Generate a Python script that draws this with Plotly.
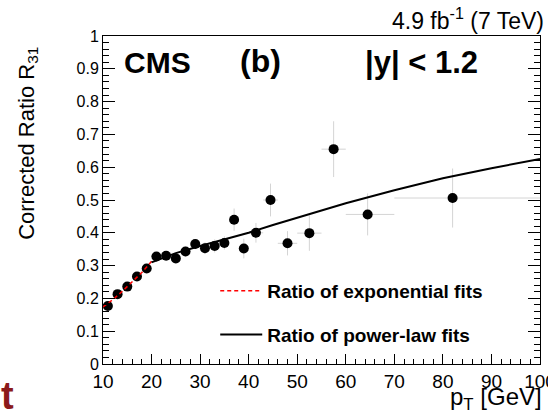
import plotly.graph_objects as go

# --- data ---
pt = [11, 13, 15, 17, 19, 21, 23, 25, 27, 29, 31, 33, 35, 37, 39, 41.5, 44.5, 48, 52.5, 57.5, 64.5, 82]
r31 = [0.177, 0.213, 0.236, 0.267, 0.291, 0.328, 0.330, 0.322, 0.343, 0.366, 0.353, 0.360, 0.369,
       0.440, 0.352, 0.400, 0.500, 0.368, 0.399, 0.655, 0.456, 0.506]
r31_err = [0.01, 0.01, 0.01, 0.01, 0.012, 0.012, 0.012, 0.012, 0.015, 0.015, 0.018, 0.02, 0.02,
           0.034, 0.03, 0.03, 0.05, 0.037, 0.054, 0.085, 0.064, 0.09]
bin_lo = [10, 12, 14, 16, 18, 20, 22, 24, 26, 28, 30, 32, 34, 36, 38, 40, 43, 46, 50, 55, 60, 70]
bin_hi = [12, 14, 16, 18, 20, 22, 24, 26, 28, 30, 32, 34, 36, 38, 40, 43, 46, 50, 55, 60, 70, 100]

exp_x = [10, 12, 14, 16, 18, 20]
exp_y = [0.174, 0.196, 0.222, 0.250, 0.279, 0.313]

pow_x = [20, 25, 30, 35, 40, 45, 50, 60, 70, 80, 90, 100]
pow_y = [0.310, 0.338, 0.360, 0.380, 0.400, 0.424, 0.446, 0.490, 0.530, 0.566, 0.597, 0.625]

x_ticks = [10, 20, 30, 40, 50, 60, 70, 80, 90, 100]
y_ticks = [0, 0.1, 0.2, 0.3, 0.4, 0.5, 0.6, 0.7, 0.8, 0.9, 1]
y_labels = ["0", "0.1", "0.2", "0.3", "0.4", "0.5", "0.6", "0.7", "0.8", "0.9", "1"]

xerr_plus = [h - x for h, x in zip(bin_hi, pt)]
xerr_minus = [x - l for x, l in zip(pt, bin_lo)]

FONT = "Liberation Sans, Arial, sans-serif"

fig = go.Figure()
fig.add_trace(go.Scatter(
    x=pt, y=r31, mode="markers", showlegend=False,
    marker=dict(color="black", size=10),
    error_y=dict(type="data", array=r31_err, color="#d4d4d4", thickness=1, width=0),
    error_x=dict(type="data", array=xerr_plus, arrayminus=xerr_minus, color="#d4d4d4", thickness=1, width=0),
))
fig.add_trace(go.Scatter(
    x=exp_x, y=exp_y, mode="lines", name="Ratio of exponential fits", legendgroup="a",
    line=dict(color="red", width=1.5, dash="4px,3px"),
))
fig.add_trace(go.Scatter(
    x=pow_x, y=pow_y, mode="lines", name="Ratio of power-law fits", legendgroup="b",
    line=dict(color="black", width=2),
))

L, R, T, B = 102.7, 8, 36, 52
W, H = 548, 416
pw, ph = W - L - R, H - T - B

def px2x(px):
    return (px - L) / pw

def py2y(py):
    return (H - B - py) / ph

fig.update_layout(
    template="none",
    width=W, height=H,
    margin=dict(l=L, r=R, t=T, b=B, pad=0, autoexpand=False),
    paper_bgcolor="white", plot_bgcolor="white",
    font=dict(family=FONT, color="black"),
    showlegend=True,
    legend=dict(
        x=px2x(215), y=py2y(272), xanchor="left", yanchor="top",
        font=dict(size=19, family=FONT, color="black", weight="bold"),
        bgcolor="rgba(0,0,0,0)", traceorder="grouped", tracegroupgap=16,
        itemwidth=42,
    ),
    xaxis=dict(
        range=[10, 100], showgrid=False, zeroline=False, automargin=False,
        showline=True, linecolor="black", linewidth=1, mirror=True,
        ticks="inside", ticklen=10, tickcolor="black", tickwidth=1,
        tickvals=x_ticks, ticktext=[str(v) for v in x_ticks],
        ticklabeloverflow="allow",
        tickfont=dict(size=19, family=FONT, color="black"),
        minor=dict(ticks="inside", ticklen=5, dtick=2, tickcolor="black", showgrid=False),
    ),
    yaxis=dict(
        range=[0, 1], showgrid=False, zeroline=False, automargin=False,
        showline=True, linecolor="black", linewidth=1, mirror="ticks",
        ticks="inside", ticklen=12, tickcolor="black", tickwidth=1,
        tickvals=y_ticks, ticktext=y_labels,
        ticklabeloverflow="allow",
        tickfont=dict(size=16, family=FONT, color="black"),
        minor=dict(ticks="inside", ticklen=6, dtick=0.02, tickcolor="black", showgrid=False),
    ),
)

ann = [
    dict(text="CMS", x=px2x(122), y=py2y(63), xanchor="left", yanchor="middle",
         font=dict(size=30, weight="bold")),
    dict(text="(b)", x=px2x(238), y=py2y(61), xanchor="left", yanchor="middle",
         font=dict(size=32, weight="bold")),
    dict(text="|y| < 1.2", x=px2x(363), y=py2y(63), xanchor="left", yanchor="middle",
         font=dict(size=31, weight="bold")),
    dict(text="4.9 fb<sup>-1</sup> (7 TeV)", x=px2x(546), y=py2y(19), xanchor="right", yanchor="middle",
         font=dict(size=23)),
    dict(text="Corrected Ratio R<sub>31</sub>", x=px2x(27), y=py2y(45), xanchor="center", yanchor="top",
         textangle=-90, font=dict(size=22)),
    dict(text="p<sub>T</sub> [GeV]", x=px2x(544), y=py2y(398), xanchor="right", yanchor="middle",
         font=dict(size=24)),
    dict(text="t", x=px2x(-1), y=py2y(396), xanchor="left", yanchor="middle",
         font=dict(size=38, weight="bold", color="#8b1a1a")),
]
for a in ann:
    a.update(xref="paper", yref="paper", showarrow=False)
    a["font"].setdefault("family", FONT)
    a["font"].setdefault("color", "black")
fig.update_layout(annotations=ann)

fig.write_html("out.html")
